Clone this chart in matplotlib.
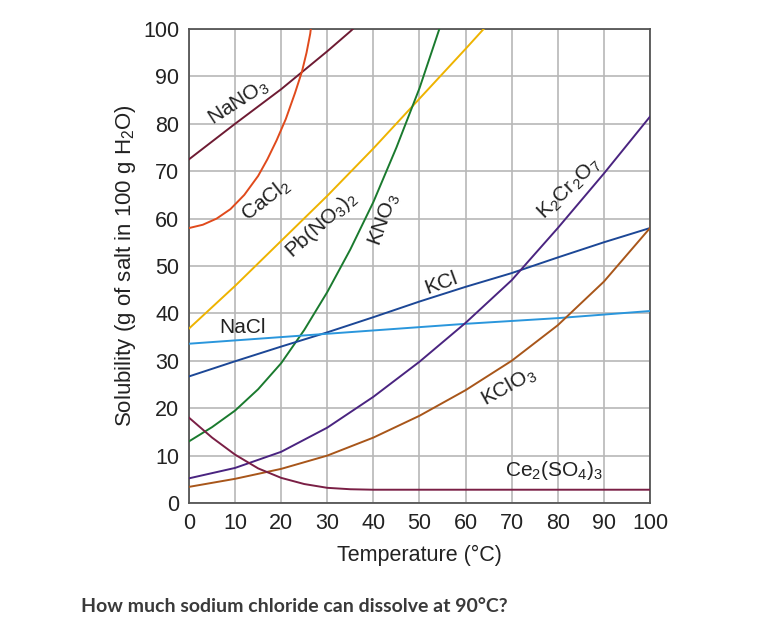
import matplotlib
matplotlib.use("Agg")
import matplotlib.pyplot as plt

# ---- data ----
nano3_t = [0, 10, 20, 30, 35, 40]
nano3_s = [72.5, 80, 87.3, 95.3, 99.5, 104]

cacl2_t = [0, 3, 6, 9, 12, 15, 17, 19, 21, 23, 24.5, 25.5, 26.3, 26.8]
cacl2_s = [58, 58.7, 60, 62, 65, 69, 72.5, 76.5, 81, 86.5, 91, 95, 99, 103]

pbno3_t = [0, 10, 20, 30, 40, 50, 60, 70]
pbno3_s = [36.8, 45.8, 55.3, 64.8, 74.8, 85.3, 95.8, 106.5]

kno3_t = [0, 5, 10, 15, 20, 25, 30, 35, 40, 45, 50, 55]
kno3_s = [13, 16, 19.5, 24, 29.5, 36.5, 44.5, 53.5, 63.5, 75, 87.5, 102]

kcl_t = [0, 10, 20, 30, 40, 50, 60, 70, 80, 90, 100]
kcl_s = [26.7, 29.9, 33, 36, 39.2, 42.5, 45.6, 48.5, 51.8, 55, 58]

nacl_t = [0, 20, 40, 60, 80, 100]
nacl_s = [33.6, 35, 36.4, 37.8, 39, 40.5]

k2cr2o7_t = [0, 10, 20, 30, 40, 50, 60, 70, 80, 90, 100]
k2cr2o7_s = [5.2, 7.4, 10.8, 15.9, 22.4, 29.8, 38, 47, 58, 69.5, 81.5]

kclo3_t = [0, 10, 20, 30, 40, 50, 60, 70, 80, 90, 100]
kclo3_s = [3.4, 5.1, 7.2, 10, 13.8, 18.4, 23.8, 30, 37.5, 46.7, 58]

ce_t = [0, 5, 10, 15, 20, 25, 30, 35, 40, 50, 60, 70, 80, 90, 100]
ce_s = [18, 13.8, 10.2, 7.3, 5.3, 4, 3.2, 2.9, 2.8, 2.8, 2.8, 2.8, 2.8, 2.8, 2.8]

x_ticks = list(range(0, 101, 10))
y_ticks = list(range(0, 101, 10))

FONT = ["Liberation Sans", "DejaVu Sans"]
plt.rcParams["font.family"] = FONT
plt.rcParams["mathtext.fontset"] = "custom"
plt.rcParams["mathtext.rm"] = "Liberation Sans"
plt.rcParams["mathtext.it"] = "Liberation Sans"
plt.rcParams["mathtext.default"] = "regular"

fig = plt.figure(figsize=(7.8, 6.41), dpi=100)
ax = fig.add_axes([0.2423, 0.2153, 0.591, 0.7395])

series = [
    (nano3_t, nano3_s, "#6e1b33"),
    (cacl2_t, cacl2_s, "#e04a1c"),
    (pbno3_t, pbno3_s, "#eeb300"),
    (kno3_t, kno3_s, "#1a7a2e"),
    (kcl_t, kcl_s, "#1c4796"),
    (nacl_t, nacl_s, "#2a96dc"),
    (k2cr2o7_t, k2cr2o7_s, "#4a2480"),
    (kclo3_t, kclo3_s, "#a8561a"),
    (ce_t, ce_s, "#7a1f45"),
]
for t, s, c in series:
    ax.plot(t, s, color=c, lw=1.4, solid_joinstyle="round", zorder=3)

ax.set_xlim(0, 100)
ax.set_ylim(0, 100)
ax.set_xticks(x_ticks)
ax.set_yticks(y_ticks)
ax.grid(True, color="#b8b8b8", lw=1.2, zorder=0)
ax.set_axisbelow(True)
ax.tick_params(length=0, labelsize=15.5, pad=7, colors="#222222")
for sp in ax.spines.values():
    sp.set_color("#555555")
    sp.set_linewidth(1.3)

ax.set_xlabel("Temperature (°C)", fontsize=15.5, color="#222222", labelpad=8)
ax.set_ylabel("Solubility (g of salt in 100 g H$_2$O)", fontsize=16,
              color="#222222", labelpad=4)

lab_kw = dict(fontsize=15, color="#222222", ha="center", va="center", zorder=4)
ax.text(10.7, 84.5, "NaNO$_3$", rotation=33, **lab_kw)
ax.text(16.7, 63.9, "CaCl$_2$", rotation=38, **lab_kw)
ax.text(28.7, 58.8, "Pb(NO$_3$)$_2$", rotation=42, **lab_kw)
ax.text(42.3, 59.7, "KNO$_3$", rotation=70, **lab_kw)
ax.text(82.4, 66.2, "K$_2$Cr$_2$O$_7$", rotation=44, **lab_kw)
ax.text(54.7, 46.4, "KCl", rotation=20, **lab_kw)
ax.text(11.7, 37.1, "NaCl", rotation=0, **lab_kw)
ax.text(69.4, 24.5, "KClO$_3$", rotation=29, **lab_kw)
ax.text(79.2, 6.8, "Ce$_2$(SO$_4$)$_3$", rotation=0, **lab_kw)

fig.text(81 / 780, 1 - 606 / 641, "How much sodium chloride can dissolve at 90°C?",
         fontsize=14, fontweight="bold", family=["Lato", "DejaVu Sans"],
         color="#3a3a3a", ha="left", va="center")

fig.savefig("out.png", dpi=100)
